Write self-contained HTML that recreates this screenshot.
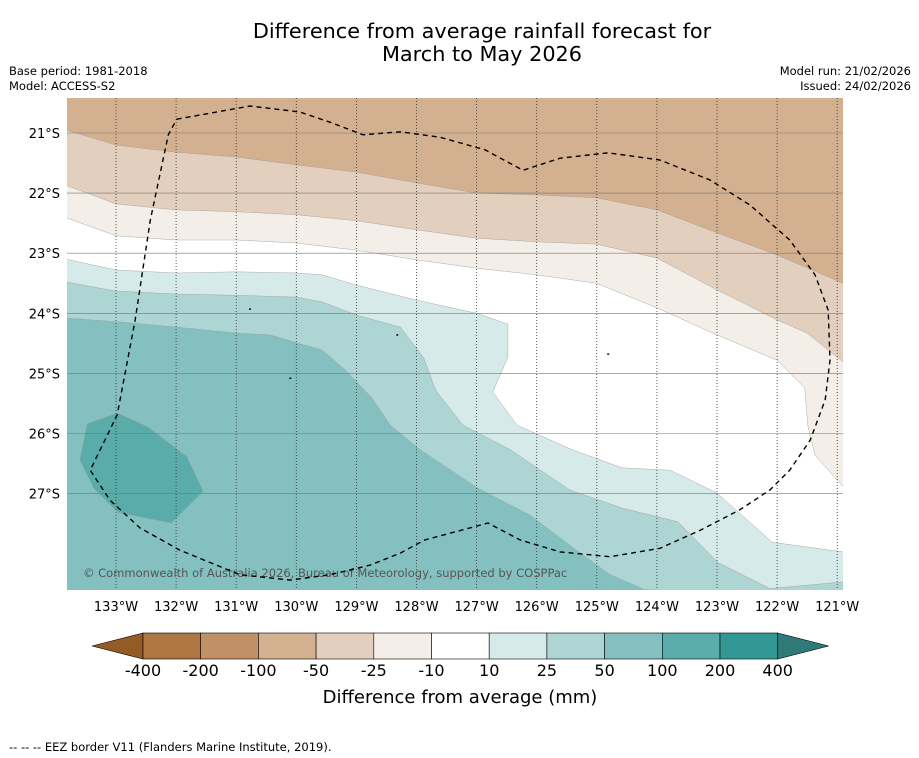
<!DOCTYPE html>
<html><head><meta charset="utf-8">
<style>
body{margin:0;background:#fff;font-family:"Liberation Sans","DejaVu Sans",sans-serif;}
#wrap{position:relative;width:919px;height:758px;overflow:hidden;}
</style></head>
<body>
<div id="wrap">
<svg id="svg" width="919" height="758" viewBox="0 0 919 758" xmlns="http://www.w3.org/2000/svg" font-family="DejaVu Sans, Liberation Sans, sans-serif">
<text x="482" y="38" font-size="20.8" text-anchor="middle" fill="#000">Difference from average rainfall forecast for</text>
<text x="482" y="61" font-size="20.8" text-anchor="middle" fill="#000">March to May 2026</text>
<text x="9" y="75" font-size="11.5">Base period: 1981-2018</text>
<text x="9" y="90" font-size="11.5">Model: ACCESS-S2</text>
<text x="911" y="75" font-size="11.5" text-anchor="end">Model run: 21/02/2026</text>
<text x="911" y="90" font-size="11.5" text-anchor="end">Issued: 24/02/2026</text>
<defs><clipPath id="mapclip"><rect x="67" y="98" width="776" height="492"/></clipPath></defs>
<g id="map" clip-path="url(#mapclip)">
<rect x="67" y="98" width="776" height="492" fill="#ffffff"/>
</g>
<g id="axes"></g>
<g id="cbar"></g>
<text x="460" y="703" font-size="18" text-anchor="middle">Difference from average (mm)</text>
<text x="9" y="751" font-size="11.5">--  --  -- EEZ border V11 (Flanders Marine Institute, 2019).</text>
</svg>
</div>
<script>
// ---- data ----
const lonTicks=[133,132,131,130,129,128,127,126,125,124,123,122,121];
const latTicks=[21,22,23,24,25,26,27];
const bound_m50=[[133.83,20.95],[133,21.20],[132,21.32],[131,21.40],[130,21.53],[129,21.65],[128,21.83],[127,22.00],[126,22.03],[125,22.08],[124,22.28],[123,22.66],[122,23.03],[120.9,23.50]];
const bound_m25=[[133.83,21.87],[133,22.18],[132,22.28],[131,22.31],[130,22.36],[129,22.46],[128,22.61],[127,22.75],[126,22.81],[125,22.85],[124,23.08],[123,23.61],[122,24.11],[121.5,24.33],[120.9,24.81]];
const bound_m10=[[133.83,22.41],[133,22.71],[132,22.78],[131,22.78],[130,22.83],[129,22.95],[128,23.11],[127,23.25],[126,23.36],[125,23.50],[124,23.91],[123,24.36],[122,24.78],[121.54,25.24],[121.49,25.86],[121.37,26.36],[120.9,26.89]];
const bound_p10=[[133.83,23.10],[133,23.28],[132,23.33],[131,23.31],[130,23.33],[129.57,23.36],[129,23.53],[128,23.78],[127,24.0],[126.48,24.18],[126.48,24.73],[126.73,25.31],[126.33,25.86],[125.41,26.27],[124.58,26.57],[123.78,26.61],[123,26.99],[122.08,27.81],[120.9,27.97]];
const bound_p25=[[133.83,23.48],[133,23.63],[132,23.68],[131,23.70],[130,23.73],[129.57,23.81],[129,24.03],[128.27,24.23],[127.88,24.74],[127.68,25.28],[127.23,25.86],[126.44,26.27],[125.45,26.94],[124.58,27.24],[123.65,27.47],[122.98,28.15],[122.12,28.58],[120.9,28.47]];
const bound_p50=[[133.83,24.08],[133,24.14],[132,24.23],[131,24.33],[130.44,24.36],[130,24.49],[129.57,24.61],[129.19,24.94],[128.74,25.41],[128.44,25.86],[127.94,26.27],[126.98,26.91],[126.11,27.36],[125.45,27.86],[124.78,28.35],[124.20,28.60]];
const blob_p100=[[133.48,25.84],[132.98,25.66],[132.47,25.89],[131.82,26.39],[131.55,26.96],[132.08,27.49],[132.97,27.31],[133.37,26.91],[133.60,26.44]];
const eez=[[131.99,20.77],[130.77,20.55],[129.94,20.65],[129.44,20.82],[128.89,21.03],[128.27,20.98],[127.61,21.07],[126.86,21.28],[126.23,21.62],[125.61,21.42],[124.81,21.33],[123.95,21.45],[123.12,21.78],[122.45,22.20],[121.79,22.78],[121.37,23.36],[121.15,23.95],[121.12,24.78],[121.20,25.44],[121.45,26.11],[121.79,26.61],[122.12,26.94],[122.62,27.27],[123.28,27.61],[123.95,27.91],[124.78,28.05],[125.61,27.97],[126.28,27.77],[126.81,27.49],[127.11,27.57],[127.86,27.77],[128.27,27.99],[128.77,28.19],[129.44,28.35],[130.10,28.44],[130.94,28.35],[131.94,27.94],[132.60,27.57],[133.10,27.11],[133.43,26.61],[132.98,25.69],[132.68,24.11],[132.43,22.45],[132.13,21.03],[131.99,20.77]];
const islands=[[130.77,23.93],[130.10,25.08],[124.81,24.68],[128.32,24.36]];
const cbLabels=["-400","-200","-100","-50","-25","-10","10","25","50","100","200","400"];
const cbColors=["#ae7741","#c09165","#d3b08f","#e3cfbe","#f3eee8","#ffffff","#d6eae9","#acd5d4","#84c0bf","#5aacaa","#329896"];
// ---- axis functions ----
const X=lon=>116+(133-lon)*60.1;
const Y=lat=>133+(lat-21)*60.1;
const NS="http://www.w3.org/2000/svg";
function mk(tag,attrs,parent){const e=document.createElementNS(NS,tag);for(const k in attrs)e.setAttribute(k,attrs[k]);parent.appendChild(e);return e;}
const map=document.getElementById('map');
const T=98,B=590,Lx=67,Rx=845;
function pts(arr){return arr.map(p=>X(p[0]).toFixed(1)+','+Y(p[1]).toFixed(1)).join(' ');}
function topPoly(b,col,name){
  const p=mk('polygon',{points:pts(b)+` ${Rx},${T-5} ${Lx-3},${T-5}`,fill:col,stroke:'#999',"stroke-width":0.4},map);
  
  
}
function botPoly(b,col,name){
  const p=mk('polygon',{points:pts(b)+` ${Rx+5},${B+5} ${Lx-5},${B+5}`,fill:col,stroke:'#999',"stroke-width":0.4},map);
  
  
}
topPoly(bound_m10,cbColors[4],'band-minus10-to-minus25');
topPoly(bound_m25,cbColors[3],'band-minus25-to-minus50');
topPoly(bound_m50,cbColors[2],'band-minus50-to-minus100');
botPoly(bound_p10,cbColors[6],'band-10-to-25');
botPoly(bound_p25,cbColors[7],'band-25-to-50');
botPoly(bound_p50,cbColors[8],'band-50-to-100');
{const p=mk('polygon',{points:pts(blob_p100),fill:cbColors[9],stroke:'#999',"stroke-width":0.4},map);

}
islands.forEach(s=>{const c=mk('rect',{x:X(s[0])-1,y:Y(s[1])-0.7,width:2,height:1.4,fill:'#000'},map);

});
lonTicks.forEach(l=>{const g=mk('line',{x1:X(l),x2:X(l),y1:T,y2:B,stroke:'#333',"stroke-width":0.8,"stroke-dasharray":"1,2"},map);

});
latTicks.forEach(l=>{const g=mk('line',{x1:Lx,x2:Rx,y1:Y(l),y2:Y(l),stroke:'#777',"stroke-width":0.6},map);

});
{const t=mk('text',{x:83,y:577,"font-size":11.5,fill:'#555'},map);t.textContent='© Commonwealth of Australia 2026, Bureau of Meteorology, supported by COSPPac';

}
{const e=mk('polyline',{points:pts(eez),fill:'none',stroke:'#000',"stroke-width":1.4,"stroke-dasharray":"5,4"},map);

}
const axes=document.getElementById('axes');
lonTicks.forEach(l=>{const t=mk('text',{x:X(l),y:611,"font-size":13,"text-anchor":"middle"},axes);t.textContent=l+'°W';

});
latTicks.forEach(l=>{const t=mk('text',{x:60,y:Y(l)+5,"font-size":13,"text-anchor":"end"},axes);t.textContent=l+'°S';

});
const cb=document.getElementById('cbar');
const cx0=143,cw=57.7,cy=633,ch=26;
{const t=mk('polygon',{points:`92,${cy+ch/2} ${cx0},${cy} ${cx0},${cy+ch}`,fill:'#935c27',stroke:'#000',"stroke-width":0.6},cb);

}
cbColors.forEach((c,i)=>{const r=mk('rect',{x:cx0+i*cw,y:cy,width:cw,height:ch,fill:c,stroke:'#000',"stroke-width":0.6},cb);

});
{const xe=cx0+cbColors.length*cw;const t=mk('polygon',{points:`${xe},${cy} ${xe+51},${cy+ch/2} ${xe},${cy+ch}`,fill:'#2f7a78',stroke:'#000',"stroke-width":0.6},cb);

}
cbLabels.forEach((s,i)=>{const t=mk('text',{x:cx0+i*cw,y:676,"font-size":16,"text-anchor":"middle"},cb);t.textContent=s;

});
</script>
</body></html>
